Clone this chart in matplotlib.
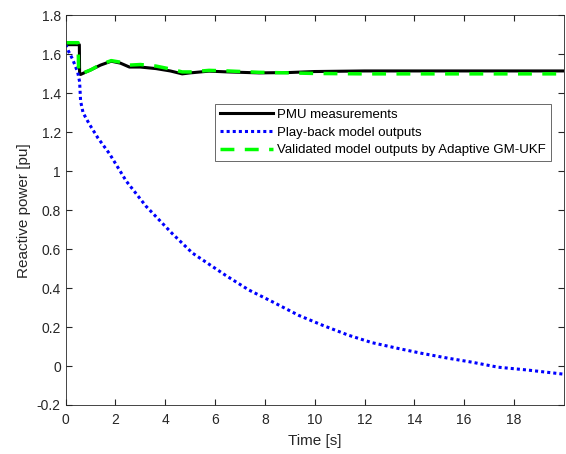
import matplotlib
matplotlib.use("Agg")
import matplotlib.pyplot as plt

plt.rcParams['font.family'] = ['Liberation Sans', 'DejaVu Sans']

# PMU measurements
t_pmu = [0, 0.55, 0.56, 0.6, 1.0, 1.4, 1.83, 2.2, 2.56, 3.0, 3.63, 4.2, 4.68, 5.0,
         5.76, 6.5, 7.76, 9.0, 10.0, 12.0, 14.0, 16.0, 18.0, 20.0]
q_pmu = [1.65, 1.65, 1.50, 1.497, 1.52, 1.545, 1.565, 1.555, 1.535, 1.535, 1.527,
         1.515, 1.50, 1.505, 1.514, 1.51, 1.505, 1.507, 1.512, 1.515, 1.515, 1.515,
         1.515, 1.515]

# play-back model
t_pb = [0, 0.1, 0.28, 0.48, 0.56, 0.6, 0.7, 0.96, 1.3, 1.76, 2.43, 3.23, 4.28, 5.09,
        6.43, 7.36, 8.3, 9.36, 10.3, 11.36, 12.3, 13.36, 14.3, 15.36, 16.3, 17.36,
        18.5, 19.6, 20.0]
q_pb = [1.65, 1.62, 1.575, 1.51, 1.46, 1.36, 1.30, 1.24, 1.17, 1.09, 0.95, 0.82,
        0.68, 0.58, 0.465, 0.39, 0.33, 0.26, 0.21, 0.158, 0.12, 0.09, 0.065, 0.04,
        0.02, -0.006, -0.02, -0.036, -0.042]

# validated model (adaptive GM-UKF)
t_val = [0, 0.5, 0.52, 0.6, 1.0, 1.4, 1.83, 2.2, 2.56, 3.0, 3.63, 4.2, 4.68, 5.0,
         5.76, 6.5, 7.76, 9.0, 10.0, 12.0, 14.0, 16.0, 18.0, 20.0]
q_val = [1.66, 1.66, 1.51, 1.50, 1.52, 1.548, 1.568, 1.56, 1.545, 1.548, 1.54,
         1.525, 1.51, 1.51, 1.518, 1.515, 1.508, 1.505, 1.502, 1.50, 1.50, 1.50,
         1.50, 1.50]

fig = plt.figure(figsize=(5.66, 4.54), dpi=100)
ax = fig.add_axes([0.116, 0.108, 0.880, 0.858])

ax.plot(t_pmu, q_pmu, color='k', lw=2.2, label='PMU measurements')
ax.plot(t_pb, q_pb, color='b', lw=2.2, linestyle=(0, (1, 1)),
        label='Play-back model outputs')
ax.plot(t_val, q_val, color='#00ff00', lw=2.5, linestyle=(0, (4, 3)),
        label='Validated model outputs by Adaptive GM-UKF')

ax.set_xlim(0, 20)
ax.set_ylim(-0.2, 1.8)
ax.set_xticks(range(0, 20, 2))
ax.set_yticks([-0.2, 0, 0.2, 0.4, 0.6, 0.8, 1, 1.2, 1.4, 1.6, 1.8])
ax.set_yticklabels(['-0.2', '0', '0.2', '0.4', '0.6', '0.8', '1', '1.2', '1.4',
                    '1.6', '1.8'])
ax.tick_params(direction='in', top=True, right=True, labelsize=10,
               colors='#262626', length=4)
ax.tick_params(axis='x', pad=6)
for s in ax.spines.values():
    s.set_color('#262626')
    s.set_linewidth(0.6)
ax.set_xlabel('Time [s]', fontsize=11, color='#262626', labelpad=5)
ax.set_ylabel('Reactive power [pu]', fontsize=11, color='#262626')

leg = ax.legend(loc='upper right', bbox_to_anchor=(0.974, 0.772), fontsize=9.5,
                frameon=True, fancybox=False, edgecolor='#262626',
                handlelength=4.0, handletextpad=0.35, labelspacing=0.4,
                borderpad=0.35, borderaxespad=0)
leg.get_frame().set_linewidth(0.6)

fig.savefig('out.png', dpi=100)
